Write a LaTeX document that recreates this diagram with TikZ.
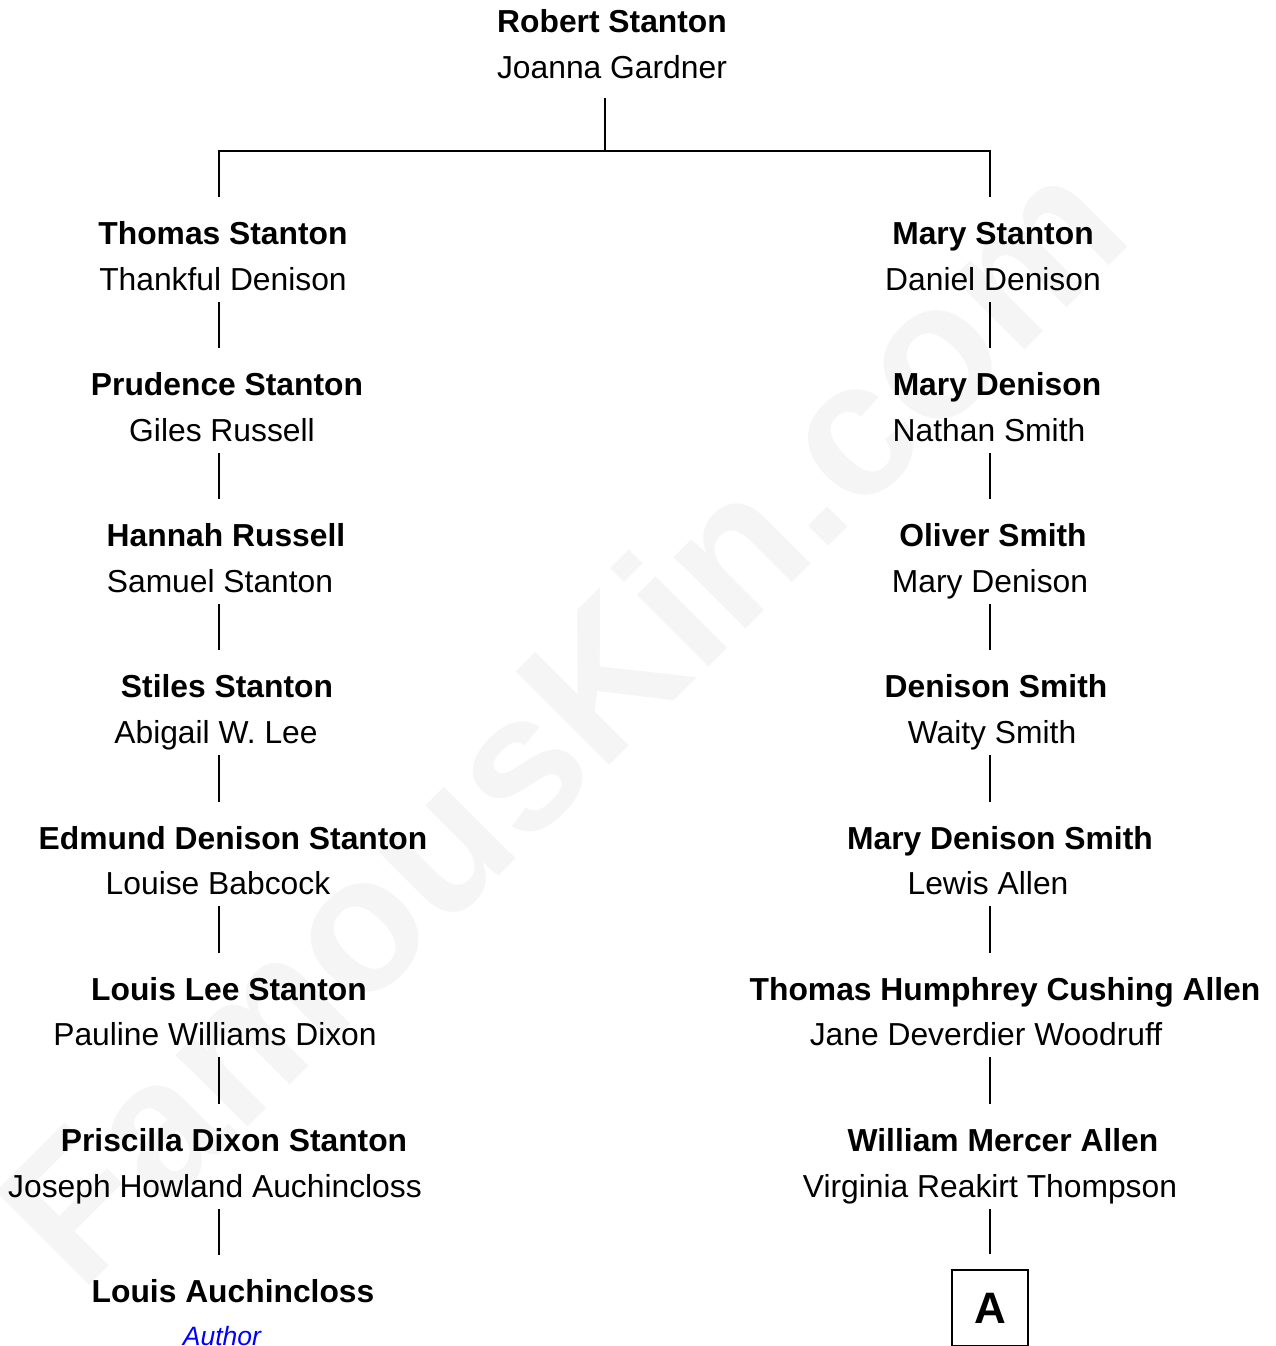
\documentclass[tikz,border=0pt]{standalone}
\usepackage{fontspec}
\setmainfont{Liberation Sans}
\begin{document}
\begin{tikzpicture}[x=1pt,y=-1pt,
  bold/.style={anchor=base,inner sep=0pt,font=\fontsize{31.8}{36}\selectfont\bfseries},
  reg/.style={anchor=base,inner sep=0pt,font=\fontsize{31.8}{36}\selectfont},
  conn/.style={line width=1.2pt,black},
  wmark/.style={anchor=center,inner sep=0pt,font=\fontsize{192}{210}\selectfont\bfseries,text=black!4}]
\useasboundingbox (0,0) rectangle (1276,1346);
\fill[white] (0,0) rectangle (1276,1346);
% watermark
\node[wmark,rotate=45] (wm) at (560,718) {FamousKin.com};
% column coordinates
\coordinate (colL) at (219,0);
\coordinate (colR) at (990,0);
\coordinate (colT) at (605,0);
% top couple
\node[bold] (top1) at (612,33) {Robert Stanton};
\node[reg] (top2) at (612,78) {Joanna Gardner};
% left column
\node[bold] (l1a) at (223,244) {Thomas Stanton};
\node[reg]  (l1b) at (223,290) {Thankful Denison};
\node[bold] (l2a) at (227,395) {Prudence Stanton};
\node[reg]  (l2b) at (222,441) {Giles Russell};
\node[bold] (l3a) at (226,546) {Hannah Russell};
\node[reg]  (l3b) at (220,592) {Samuel Stanton};
\node[bold] (l4a) at (227,697) {Stiles Stanton};
\node[reg]  (l4b) at (216,743) {Abigail W. Lee};
\node[bold] (l5a) at (233,849) {Edmund Denison Stanton};
\node[reg]  (l5b) at (218,894) {Louise Babcock};
\node[bold] (l6a) at (229,1000) {Louis Lee Stanton};
\node[reg]  (l6b) at (215,1045) {Pauline Williams Dixon};
\node[bold] (l7a) at (234,1151) {Priscilla Dixon Stanton};
\node[reg]  (l7b) at (215,1197) {Joseph Howland Auchincloss};
\node[bold] (l8a) at (233,1302) {Louis Auchincloss};
\node[anchor=base,inner sep=0pt,font=\fontsize{26.5}{30}\selectfont\itshape,text={rgb,255:red,0;green,0;blue,255}] (auth) at (222,1345) {Author};
% right column
\node[bold] (r1a) at (993,244) {Mary Stanton};
\node[reg]  (r1b) at (993,290) {Daniel Denison};
\node[bold] (r2a) at (997,395) {Mary Denison};
\node[reg]  (r2b) at (989,441) {Nathan Smith};
\node[bold] (r3a) at (993,546) {Oliver Smith};
\node[reg]  (r3b) at (990,592) {Mary Denison};
\node[bold] (r4a) at (996,697) {Denison Smith};
\node[reg]  (r4b) at (992,743) {Waity Smith};
\node[bold] (r5a) at (1000,849) {Mary Denison Smith};
\node[reg]  (r5b) at (988,894) {Lewis Allen};
\node[bold] (r6a) at (1005,1000) {Thomas Humphrey Cushing Allen};
\node[reg]  (r6b) at (986,1045) {Jane Deverdier Woodruff};
\node[bold] (r7a) at (1003,1151) {William Mercer Allen};
\node[reg]  (r7b) at (990,1197) {Virginia Reakirt Thompson};
\node[draw,line width=1.2pt,minimum size=76pt,inner sep=0pt,font=\fontsize{44}{48}\selectfont\bfseries] (boxA) at (990,1308) {A};
% connectors
\coordinate (jL) at (219,151);
\coordinate (jR) at (990,151);
\draw[conn] ([yshift=-20pt]top2.base -| colT) -- (colT |- jL);
\draw[conn] (colL |- l1a.base) ++(0,-47) -- (jL) -- (jR) -- ++(0,46);
\draw[conn] ([yshift=-12pt]l1b.base -| colL) -- ([yshift=47pt]l2a.base -| colL);
\draw[conn] ([yshift=-12pt]l2b.base -| colL) -- ([yshift=47pt]l3a.base -| colL);
\draw[conn] ([yshift=-12pt]l3b.base -| colL) -- ([yshift=47pt]l4a.base -| colL);
\draw[conn] ([yshift=-12pt]l4b.base -| colL) -- ([yshift=47pt]l5a.base -| colL);
\draw[conn] ([yshift=-12pt]l5b.base -| colL) -- ([yshift=47pt]l6a.base -| colL);
\draw[conn] ([yshift=-12pt]l6b.base -| colL) -- ([yshift=47pt]l7a.base -| colL);
\draw[conn] ([yshift=-12pt]l7b.base -| colL) -- ([yshift=47pt]l8a.base -| colL);
\draw[conn] ([yshift=-12pt]r1b.base -| colR) -- ([yshift=47pt]r2a.base -| colR);
\draw[conn] ([yshift=-12pt]r2b.base -| colR) -- ([yshift=47pt]r3a.base -| colR);
\draw[conn] ([yshift=-12pt]r3b.base -| colR) -- ([yshift=47pt]r4a.base -| colR);
\draw[conn] ([yshift=-12pt]r4b.base -| colR) -- ([yshift=47pt]r5a.base -| colR);
\draw[conn] ([yshift=-12pt]r5b.base -| colR) -- ([yshift=47pt]r6a.base -| colR);
\draw[conn] ([yshift=-12pt]r6b.base -| colR) -- ([yshift=47pt]r7a.base -| colR);
\draw[conn] ([yshift=-12pt]r7b.base -| colR) -- ([yshift=15pt]boxA.north -| colR);
\end{tikzpicture}
\end{document}
